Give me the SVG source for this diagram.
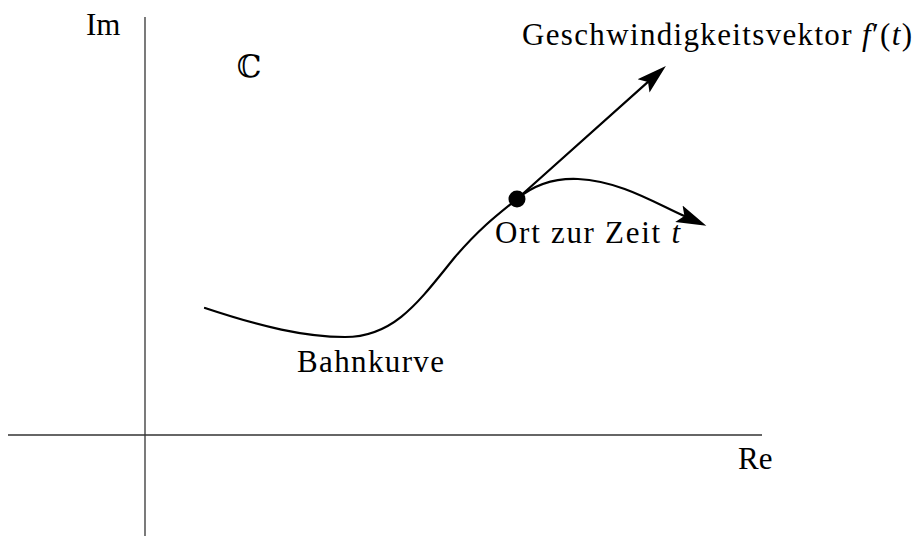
<svg xmlns="http://www.w3.org/2000/svg" width="914" height="536" viewBox="0 0 914 536">
<style>
text{font-family:"Liberation Serif","DejaVu Serif",serif;font-size:31px;fill:#000}
.it{font-style:italic}
.axis{stroke:#333;stroke-width:1.3;fill:none}
.curve{stroke:#000;stroke-width:2.2;fill:none;stroke-linecap:round}
</style>
<defs>
<marker id="stealth" markerUnits="userSpaceOnUse" markerWidth="32" markerHeight="20" viewBox="0 -10 32 20" refX="6" refY="0" orient="auto">
<path d="M0,-9 L30,0 L0,9 L6,0 Z" fill="#000"/>
</marker>
</defs>
<g id="axes">
<line class="axis" x1="145" y1="17" x2="145" y2="536"/>
<line class="axis" x1="8" y1="435" x2="762" y2="435"/>
</g>
<g id="labels">
<text x="86" y="35">Im</text>
<text x="249" y="77" text-anchor="middle">ℂ</text>
<text x="738" y="469">Re</text>
</g>
<g id="connectors">
<path id="bahnkurve-path" class="curve" d="M205,308 C262,327 305,337 345,337 C395,337 420,300 455,257 C480,228 497,215 517,199"/>
<path id="curve-arrow" class="curve" d="M517,199 C535,184 555,178 578,179 C620,181 655,203 684.4,216.1" marker-end="url(#stealth)"/>
<line id="tangent" class="curve" x1="517" y1="199" x2="648" y2="81.9" marker-end="url(#stealth)"/>
</g>
<g id="point">
<circle cx="517" cy="199" r="8.5" fill="#000"/>
<text x="495" y="243" textLength="185">Ort zur Zeit <tspan class="it">t</tspan></text>
</g>
<g id="bahnkurve">
<text x="297" y="372" textLength="147">Bahnkurve</text>
</g>
<g id="vektor">
<text x="522" y="45" textLength="390">Geschwindigkeitsvektor <tspan class="it">f</tspan>′(<tspan class="it">t</tspan>)</text>
</g>
</svg>
